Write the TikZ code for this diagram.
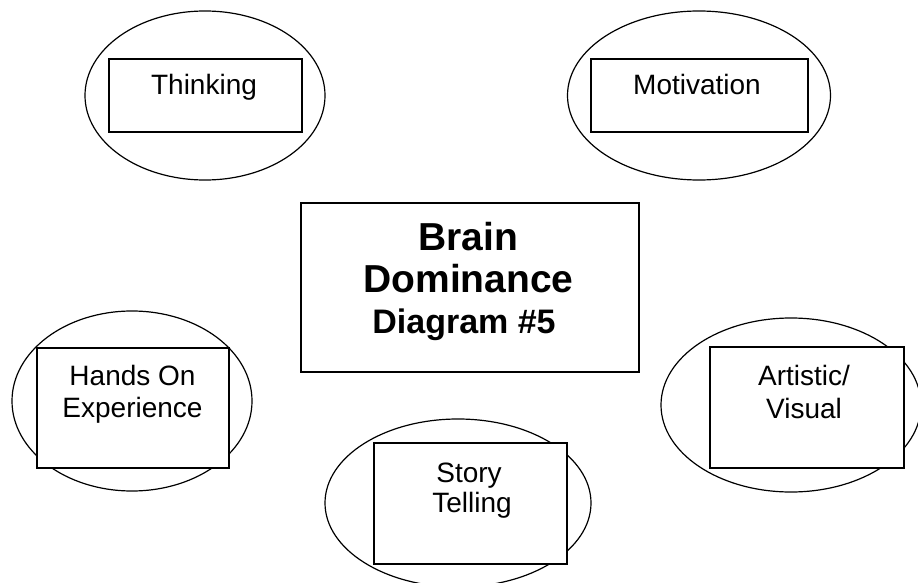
\documentclass[tikz,border=0pt]{standalone}
\usepackage{fontspec}
\setmainfont{Liberation Sans}
\usetikzlibrary{shapes.geometric}
\begin{document}
\begin{tikzpicture}[x=1pt,y=-1pt,
  oval/.style={draw, line width=1.2pt, fill=white, ellipse, inner sep=0pt},
  box/.style={draw, line width=1.4pt, fill=white, rectangle, inner sep=0pt},
  lbl/.style={anchor=base, inner sep=0pt, font=\fontsize{28}{32}\selectfont},
  blbl/.style={anchor=base, inner sep=0pt, font=\bfseries\fontsize{39}{42}\selectfont},
  slbl/.style={anchor=base, inner sep=0pt, font=\bfseries\fontsize{34}{38}\selectfont}]
\useasboundingbox (0,0) rectangle (918,583);
% ellipses
\node[oval, minimum width=240pt, minimum height=169pt] (thinkOval) at (205,95.5) {};
\node[oval, minimum width=263pt, minimum height=169pt] (motivOval) at (699,95.5) {};
\node[oval, minimum width=240pt, minimum height=180pt] (handsOval) at (132,401) {};
\node[oval, minimum width=260pt, minimum height=174pt] (artOval) at (791,405) {};
\node[oval, minimum width=266pt, minimum height=168pt] (storyOval) at (458,503) {};
% boxes
\node[box, minimum width=193pt, minimum height=73pt] (thinkBox) at (205.5,95.5) {};
\node[box, minimum width=217pt, minimum height=73pt] (motivBox) at (699.5,95.5) {};
\node[box, minimum width=338pt, minimum height=169pt] (centerBox) at (470,287.5) {};
\node[box, minimum width=192pt, minimum height=120pt] (handsBox) at (133,408) {};
\node[box, minimum width=194pt, minimum height=121pt] (artBox) at (807,407.5) {};
\node[box, minimum width=193pt, minimum height=121pt] (storyBox) at (470.5,503.5) {};
% texts
\node[lbl] (thinkText) at (204,95) {Thinking};
\node[lbl] (motivText) at (697,95) {Motivation};
\node[blbl] (brainText) at (468.5,250) {Brain};
\node[blbl] (domText) at (468.5,292) {Dominance};
\node[slbl] (diagText) at (464,333) {Diagram \#5};
\node[lbl] (handsText1) at (132.5,385) {Hands On};
\node[lbl] (handsText2) at (132.5,417) {Experience};
\node[lbl] (artText1) at (804,385) {Artistic/};
\node[lbl] (artText2) at (804,418) {Visual};
\node[lbl] (storyText1) at (469,482) {Story};
\node[lbl] (storyText2) at (472,512) {Telling};
\end{tikzpicture}
\end{document}
